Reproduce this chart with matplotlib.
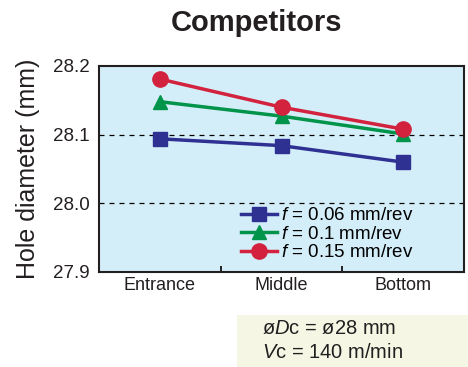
import matplotlib
matplotlib.use('Agg')
import matplotlib.pyplot as plt
import matplotlib.patches as mpatches

plt.rcParams['font.family'] = ['Liberation Sans', 'DejaVu Sans']
plt.rcParams['mathtext.fontset'] = 'custom'
plt.rcParams['mathtext.rm'] = 'Liberation Sans'
plt.rcParams['mathtext.it'] = 'Liberation Sans:italic'

# 데이터
positions = ['Entrance', 'Middle', 'Bottom']
f_006 = [28.094, 28.084, 28.060]
f_01 = [28.148, 28.127, 28.101]
f_015 = [28.181, 28.140, 28.108]
series_labels = ['$f$ = 0.06 mm/rev', '$f$ = 0.1 mm/rev', '$f$ = 0.15 mm/rev']
y_ticks = [27.9, 28.0, 28.1, 28.2]

fig = plt.figure(figsize=(4.68, 3.67), dpi=100)
ax = fig.add_axes([99/468, 1 - 272/367, 365/468, 206/367])
ax.set_facecolor('#d4eef9')

x = range(len(positions))
ax.plot(x, f_006, color='#2e3192', marker='s', markersize=10, lw=2.5, label=series_labels[0])
ax.plot(x, f_01, color='#00934a', marker='^', markersize=10, lw=2.5, label=series_labels[1])
ax.plot(x, f_015, color='#d2223e', marker='o', markersize=11, lw=2.5, label=series_labels[2])

# 격자선
for yv in [28.0, 28.1]:
    ax.axhline(yv, color='black', lw=0.9, ls=(0, (4, 4)), zorder=0.5)

ax.set_xlim(-0.5, 2.5)
ax.set_ylim(27.9, 28.2)
ax.set_yticks(y_ticks)
ax.set_yticklabels(['27.9', '28.0', '28.1', '28.2'], fontsize=13.5, color='#231f20')
ax.tick_params(axis='y', length=0, pad=7)
ax.set_xticks([0.5, 1.5])
ax.set_xticklabels([])
ax.tick_params(axis='x', direction='in', length=4, width=1.2)
for i, name in enumerate(positions):
    ax.text(i, 27.893, name, ha='center', va='top', fontsize=13, color='#231f20')
for sp in ax.spines.values():
    sp.set_linewidth(1.5)
    sp.set_color('#231f20')

ax.set_ylabel('Hole diameter (mm)', fontsize=18, color='#231f20', labelpad=9)
fig.text(257/468, 1 - 23/367, 'Competitors', ha='center', va='center', fontsize=21, fontweight='bold', color='#231f20')

leg = ax.legend(loc='lower right', bbox_to_anchor=(0.897, -0.012), frameon=False, fontsize=13.5,
                handlelength=1.9, handletextpad=0.2, labelspacing=0.08, borderpad=0.2)

# 조건 박스
fig.patches.append(mpatches.Rectangle((237/468, 0), 231/468, 52/367, transform=fig.transFigure,
                                      facecolor='#f5f7e4', edgecolor='none'))
fig.text(262/468, 1 - 329/367, 'ø$D$c = ø28 mm', fontsize=14.5, va='center', color='#231f20')
fig.text(262/468, 1 - 352/367, '$V$c = 140 m/min', fontsize=14.5, va='center', color='#231f20')

plt.savefig('out.png', dpi=100, facecolor='white')
